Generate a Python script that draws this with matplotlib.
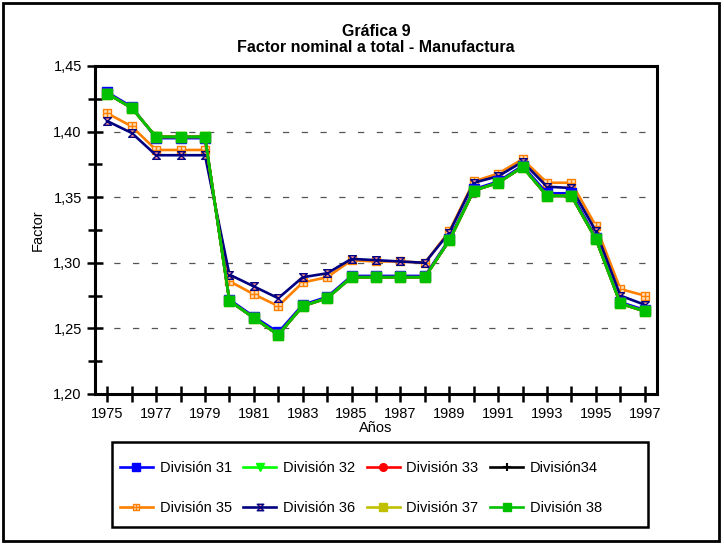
import matplotlib
matplotlib.use("Agg")
import matplotlib.pyplot as plt
from matplotlib.path import Path
from matplotlib.patches import Rectangle
from matplotlib.ticker import MultipleLocator, FuncFormatter

plt.rcParams['font.family'] = ['Liberation Sans', 'DejaVu Sans']

years = list(range(1975, 1998))

div38 = [1.429, 1.418, 1.396, 1.396, 1.396, 1.271, 1.258, 1.245, 1.267, 1.273,
         1.289, 1.289, 1.289, 1.289, 1.317, 1.355, 1.361, 1.373, 1.351, 1.351,
         1.318, 1.269, 1.263]
div31 = [1.430, 1.419, 1.395, 1.395, 1.395, 1.272, 1.259, 1.247, 1.268, 1.274,
         1.290, 1.290, 1.290, 1.290, 1.318, 1.356, 1.362, 1.374, 1.353, 1.353,
         1.319, 1.270, 1.264]
div32 = div38[:]
div33 = div38[:]
div34 = div38[:]
div37 = div38[:]
div35 = [1.414, 1.404, 1.386, 1.386, 1.386, 1.286, 1.276, 1.267, 1.285, 1.289,
         1.302, 1.301, 1.301, 1.300, 1.324, 1.362, 1.368, 1.379, 1.361, 1.361,
         1.328, 1.280, 1.275]
div36 = [1.408, 1.399, 1.382, 1.382, 1.382, 1.291, 1.282, 1.273, 1.289, 1.292,
         1.303, 1.302, 1.301, 1.300, 1.323, 1.361, 1.366, 1.377, 1.358, 1.357,
         1.324, 1.275, 1.268]

labels = ["División 31", "División 32", "División 33", "División34",
          "División 35", "División 36", "División 37", "División 38"]

hourglass = Path([(-1, 1), (1, 1), (-1, -1), (1, -1), (-1, 1)],
                 [Path.MOVETO, Path.LINETO, Path.LINETO, Path.LINETO, Path.CLOSEPOLY])
boxcross = Path([(-1, -1), (1, -1), (1, 1), (-1, 1), (-1, -1),
                 (-1, 0), (1, 0), (0, -1), (0, 1)],
                [Path.MOVETO, Path.LINETO, Path.LINETO, Path.LINETO, Path.CLOSEPOLY,
                 Path.MOVETO, Path.LINETO, Path.MOVETO, Path.LINETO])

styles = [
    dict(color='#0000ff', marker='s', mfc='#0000ff', mec='#0000ff', ms=6.5),
    dict(color='#00ff00', marker='v', mfc='#00ff00', mec='#00ff00', ms=6.5),
    dict(color='#ff0000', marker='o', mfc='#ff0000', mec='#ff0000', ms=6.5),
    dict(color='#000000', marker='+', mfc='#000000', mec='#000000', ms=7, mew=1.5),
    dict(color='#ff8000', marker=boxcross, mfc='#ffe0c0', mec='#ff8000', ms=5.5, mew=1.0),
    dict(color='#000080', marker=hourglass, mfc='#ff9090', mec='#000080', ms=5.5, mew=1.0),
    dict(color='#c0c000', marker='s', mfc='#c0c000', mec='#c0c000', ms=6.5),
    dict(color='#00c000', marker='s', mfc='#00c000', mec='#00c000', ms=7),
]
series = [div31, div32, div33, div34, div35, div36, div37, div38]
order = [4, 5, 0, 1, 2, 3, 6, 7]

fig = plt.figure(figsize=(7.24, 5.45), dpi=100)
ax = fig.add_axes([95/724, 1-394/545, 562/724, (394-66)/545])

handles = [None]*8
for i in order:
    st = styles[i]
    h, = ax.plot(years, series[i], lw=1.9, label=labels[i], **st)
    handles[i] = h

ax.set_xlim(1974.5, 1997.5)
ax.set_ylim(1.20, 1.45)
ax.set_xticks(years)
ax.set_xticklabels([str(y) if (y - 1975) % 2 == 0 else '' for y in years])
ax.yaxis.set_major_locator(MultipleLocator(0.05))
ax.yaxis.set_minor_locator(MultipleLocator(0.025))
ax.yaxis.set_major_formatter(FuncFormatter(lambda v, p: f"{v:.2f}".replace('.', ',')))
ax.tick_params(axis='both', which='both', direction='inout', width=1.8, labelsize=10.5)
ax.tick_params(axis='y', which='major', length=12)
ax.tick_params(axis='y', which='minor', length=10)
ax.tick_params(axis='x', which='major', length=12)
for g in [1.25, 1.30, 1.35, 1.40]:
    ax.axhline(g, color='#555555', lw=0.9, ls=(0, (5, 10)), zorder=0.5)
for s in ['left', 'bottom', 'top', 'right']:
    ax.spines[s].set_linewidth(2.2)

ax.set_xlabel("Años", fontsize=10.5, labelpad=0)
ax.set_ylabel("Factor", fontsize=10.5, labelpad=6)

fig.text(376/724, 1-32/545, "Gráfica 9", ha='center', va='center',
         fontsize=11.5, fontweight='bold')
fig.text(376/724, 1-48/545, "Factor nominal a total - Manufactura", ha='center',
         va='center', fontsize=11.5, fontweight='bold')

# legend filled column-wise -> reorder to read row-wise as in the original
leg_order = [0, 4, 1, 5, 2, 6, 3, 7]
leg = fig.legend(handles=[handles[i] for i in leg_order],
                 labels=[labels[i] for i in leg_order], ncol=4,
                 loc='center', bbox_to_anchor=(120/724, 1-530/545, 482/724, 84/545),
                 mode='expand', frameon=False, borderpad=0, borderaxespad=0,
                 fontsize=10.5, handlelength=2.26, handletextpad=0.45,
                 columnspacing=0.8, labelspacing=1.75, markerscale=0.85)

fig.patches.append(Rectangle((112/724, 1-527/545), 536/724, 85/545,
                             transform=fig.transFigure, fill=False,
                             edgecolor='black', lw=1.8))
fig.patches.append(Rectangle((3/724, 4/545), 716/724, 538/545, transform=fig.transFigure,
                             fill=False, edgecolor='black', lw=2))

fig.savefig("out.png", dpi=100)
